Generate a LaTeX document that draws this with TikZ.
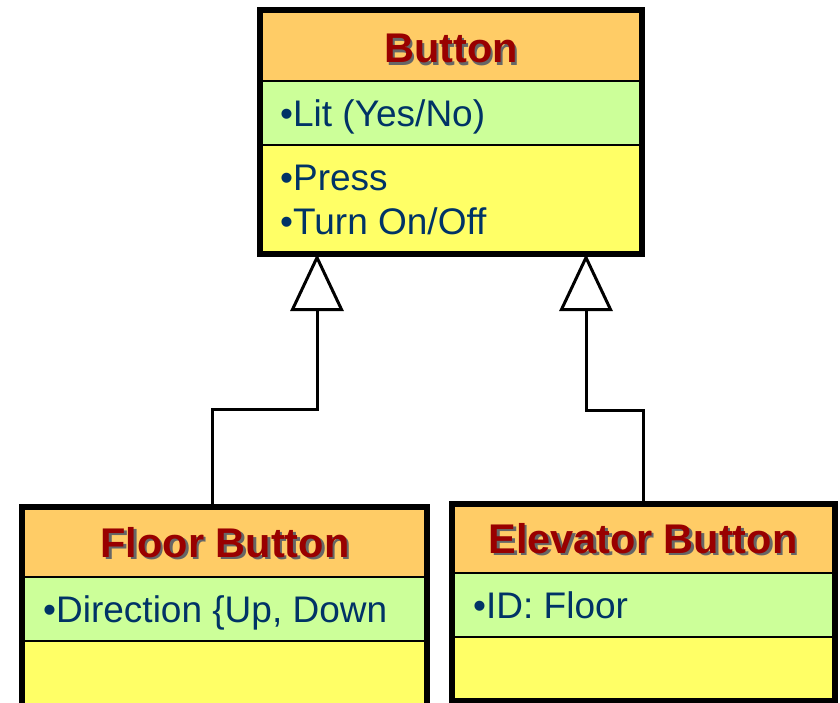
\documentclass[tikz,border=0pt]{standalone}
\usepackage{fontspec}
\setmainfont{Liberation Sans}
\usetikzlibrary{arrows.meta}
\definecolor{hdrfill}{HTML}{FFCC66}
\definecolor{attrfill}{HTML}{CCFF99}
\definecolor{opfill}{HTML}{FFFF66}
\definecolor{titlered}{HTML}{990000}
\definecolor{bodyblue}{HTML}{003366}
\newcommand{\myshadowed}[1]{\makebox[0pt][l]{\hspace{2.5pt}\raisebox{-2.5pt}{\color{black!60}#1}}#1}
\tikzset{
  classborder/.style={draw=black, line width=6pt, fill=none, inner sep=0pt, outer sep=0pt},
  divider/.style={draw=black, line width=2.5pt},
  titletext/.style={anchor=base, text=titlered, font=\fontsize{41.5}{48}\selectfont\bfseries, inner sep=0pt},
  bodytext/.style={anchor=base west, text=bodyblue, font=\fontsize{37}{44}\selectfont, inner sep=0pt},
  inherit/.style={draw=black, line width=3pt, -{Triangle[open, length=57pt, width=53pt, fill=white]}}
}
\begin{document}
\begin{tikzpicture}[x=1pt,y=-1pt]
\useasboundingbox (0,0) rectangle (840,703);
% ---- Button ----
\fill[hdrfill] (260,10.5) rectangle (642,81);
\fill[attrfill] (260,81) rectangle (642,145);
\fill[opfill] (260,145) rectangle (642,254);
\draw[divider] (260,81) -- (642,81);
\draw[divider] (260,145) -- (642,145);
\node[titletext] (bt) at (451,63) {\myshadowed{Button}};
\node[bodytext] (ba1) at (280,127) {•Lit (Yes/No)};
\node[bodytext] (bo1) at (280,191) {•Press};
\node[bodytext] (bo2) at (280,235) {•Turn On/Off};
\node[classborder, minimum width=382pt, minimum height=243.5pt] (B) at (451,132.25) {};
% ---- Floor Button ----
\fill[hdrfill] (22,506.5) rectangle (427,577);
\fill[attrfill] (22,577) rectangle (427,641);
\fill[opfill] (22,641) rectangle (427,712);
\draw[divider] (22,577) -- (427,577);
\draw[divider] (22,641) -- (427,641);
\node[titletext] (ft) at (225,557) {\myshadowed{Floor Button}};
\node[bodytext] (fa1) at (43,622) {•Direction \{Up, Down};
\node[classborder, minimum width=405pt, minimum height=205.5pt] (F) at (224.5,609.25) {};
% ---- Elevator Button ----
\fill[hdrfill] (452,504) rectangle (835,573);
\fill[attrfill] (452,573) rectangle (835,637);
\fill[opfill] (452,637) rectangle (835,701);
\draw[divider] (452,573) -- (835,573);
\draw[divider] (452,637) -- (835,637);
\node[titletext] (et) at (643,553) {\myshadowed{Elevator Button}};
\node[bodytext] (ea1) at (473,618) {•ID: Floor};
\node[classborder, minimum width=383pt, minimum height=197pt] (E) at (643.5,602.5) {};
% ---- generalisation connectors ----
\coordinate (fx) at (212,0);
\coordinate (ex) at (643,0);
\coordinate (bl) at (317,0);
\coordinate (br) at (586,0);
\coordinate (lmid) at (317,409);
\coordinate (rmid) at (586,410);
\draw[inherit] (F.north -| fx) |- (lmid) -- (B.south -| bl);
\draw[inherit] (E.north -| ex) |- (rmid) -- (B.south -| br);
\end{tikzpicture}
\end{document}
